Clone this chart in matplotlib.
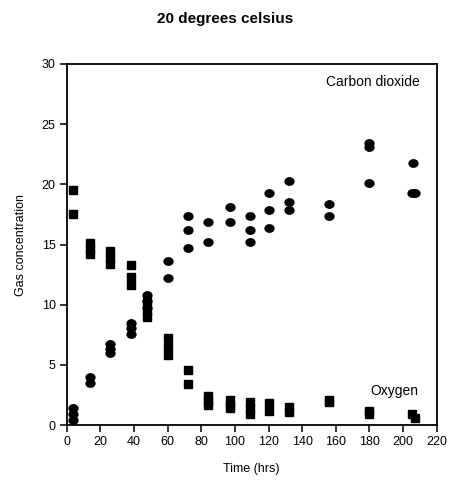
import numpy as np
import matplotlib
matplotlib.use("Agg")
import matplotlib.pyplot as plt
from matplotlib.path import Path
from matplotlib.markers import MarkerStyle

plt.rcParams["font.family"] = ["Liberation Sans", "DejaVu Sans"]

# ---- data ----
co2_t = [4, 4, 4, 14, 14, 26, 26, 26, 38, 38, 38, 48, 48, 48, 60, 60,
         72, 72, 72, 84, 84, 97, 97, 109, 109, 109, 120, 120, 120,
         132, 132, 132, 156, 156, 180, 180, 180, 206, 205.5, 207]
co2_v = [1.4, 0.9, 0.4, 4.0, 3.5, 6.7, 6.3, 6.0, 8.5, 8.1, 7.6, 10.8, 10.3, 9.7, 13.6, 12.2,
         17.4, 16.2, 14.7, 16.9, 15.2, 18.1, 16.9, 17.4, 16.2, 15.2, 19.3, 17.9, 16.4,
         20.3, 18.5, 17.9, 18.4, 17.4, 23.4, 23.1, 20.1, 21.8, 19.3, 19.3]

o2_t = [4, 4, 14, 14, 14, 26, 26, 26, 38, 38, 38, 48, 48, 48, 60, 60, 60,
        72, 72, 84, 84, 84, 97, 97, 97, 109, 109, 109, 120, 120,
        132, 132, 156, 156, 180, 180, 205.5, 207]
o2_v = [19.5, 17.5, 15.1, 14.6, 14.2, 14.5, 13.9, 13.4, 13.3, 12.3, 11.6, 10.2, 9.5, 9.0, 7.2, 6.5, 5.8,
        4.6, 3.4, 2.4, 2.0, 1.7, 2.1, 1.7, 1.4, 1.9, 1.4, 0.9, 1.8, 1.2,
        1.5, 1.1, 2.1, 1.9, 1.2, 0.9, 0.95, 0.55]

xticks = list(range(0, 221, 20))
yticks = list(range(0, 31, 5))

# slightly flattened dot like the original
circ = Path.unit_circle()
ell = Path(circ.vertices * np.array([1.2, 1.0]), circ.codes)

fig = plt.figure(figsize=(4.52, 4.82), dpi=100)
ax = fig.add_axes([66.7/452, 1-425/482, (436.7-66.7)/452, (425-64)/482])

ax.plot(co2_t, co2_v, ls="none", marker=MarkerStyle(ell), ms=6.4, color="black", mec="black")
ax.plot(o2_t, o2_v, ls="none", marker="s", ms=6.3, color="black", mec="black")

ax.set_xlim(0, 220); ax.set_ylim(0, 30)
ax.set_xticks(xticks); ax.set_yticks(yticks)
ax.tick_params(direction="out", length=5, width=1.1, labelsize=9, pad=3,
               top=False, right=False)
for s in ax.spines.values():
    s.set_linewidth(1.3)

fig.text(251.7/452, 1-469/482, "Time (hrs)", ha="center", va="center", fontsize=9)
fig.text(21/452, 1-245/482, "Gas concentration", ha="center", va="center", rotation=90, fontsize=9)
ax.text(0.955, 0.97, "Carbon dioxide", transform=ax.transAxes, ha="right", va="top", fontsize=10)
ax.text(370.5/452, 1-391.5/482, "Oxygen", transform=fig.transFigure, ha="left", va="center", fontsize=10)
fig.text(225/452, 1-19/482, "20 degrees celsius", ha="center", va="center", fontsize=11, fontweight="bold")

fig.savefig("out.png", dpi=100)
